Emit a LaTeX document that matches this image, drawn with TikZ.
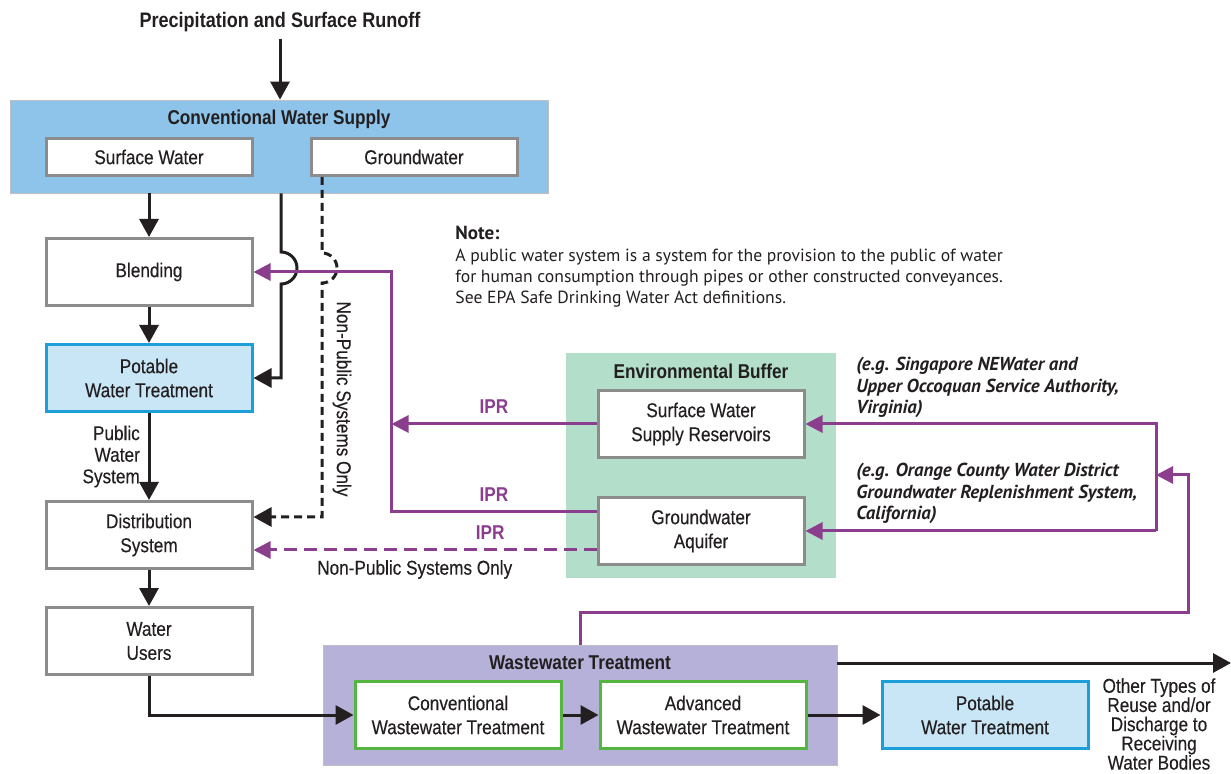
\documentclass[tikz,border=0pt]{standalone}
\usepackage{fontspec}
\setmainfont{Liberation Sans}[FakeStretch=0.86, UprightFeatures={FakeBold=0.3}]
\newfontfamily\notefont{PT Sans}
\usetikzlibrary{positioning, arrows.meta, fit, backgrounds}

\definecolor{supplyblue}{RGB}{142,196,234}
\definecolor{bufferteal}{RGB}{178,222,202}
\definecolor{wwlilac}{RGB}{182,177,216}
\definecolor{potablefill}{RGB}{201,230,246}
\definecolor{potableedge}{RGB}{30,158,217}
\definecolor{boxgray}{RGB}{140,140,140}
\definecolor{wwgreen}{RGB}{86,180,64}
\definecolor{iprpurple}{RGB}{140,62,142}
\definecolor{inkblack}{RGB}{35,31,32}

\tikzstyle{box} = [rectangle, draw=boxgray, line width=1.5pt, fill=white, minimum width=103pt, minimum height=33.5pt, inner sep=1pt, align=center, text=inkblack, font=\fontsize{10}{12}\selectfont]
\tikzstyle{srcbox} = [box, minimum height=18.5pt]
\tikzstyle{potable} = [box, draw=potableedge, fill=potablefill]
\tikzstyle{wwbox} = [box, draw=wwgreen]
\tikzstyle{groupbox} = [rectangle, inner sep=0pt, draw=black!25, line width=0.4pt]
\tikzstyle{grouptitle} = [font=\bfseries\fontsize{10}{12}\selectfont, text=inkblack]
\tikzstyle{plain} = [font=\fontsize{10}{12}\selectfont, text=inkblack, align=center]
\tikzstyle{arrow} = [line width=1.5pt, draw=inkblack, -{Triangle[length=9pt, width=9.5pt]}]
\tikzstyle{nonpublic} = [arrow, dash pattern=on 4pt off 2.5pt]
\tikzstyle{ipr} = [line width=1.5pt, draw=iprpurple, -{Triangle[length=8.5pt, width=8.5pt]}]
\tikzstyle{iprdash} = [ipr, dash pattern=on 6.5pt off 3.5pt]
\tikzstyle{iprlabel} = [font=\bfseries\fontsize{10}{12}\selectfont, text=iprpurple, above=1pt]
\tikzstyle{note} = [font=\notefont\fontsize{8.8}{10.3}\selectfont, align=left, text=inkblack, inner sep=0pt]
\tikzstyle{example} = [font=\notefont\bfseries\itshape\fontsize{9.4}{10.6}\selectfont, align=left, text=inkblack, inner sep=0pt]

\begin{document}
\begin{tikzpicture}[x=0.5pt, y=-0.5pt]
  \useasboundingbox (0,0) rectangle (1231,774);

  % Conventional supply (top left)
  \node (runoff) [grouptitle, font=\bfseries\fontsize{10.5}{12}\selectfont] at (280,22) {Precipitation and Surface Runoff};
  \node (sw) [srcbox] at (149,157) {Surface Water};
  \node (gw) [srcbox, right=28pt of sw] {Groundwater};

  % Main column
  \node (blend) [box, below=30pt of sw] {Blending};
  \node (pwt) [potable, below=18pt of blend] {Potable\\Water Treatment};
  \node (dist) [box, below=43.5pt of pwt] {Distribution\\System};
  \node (users) [box, below=18pt of dist] {Water\\Users};

  % Environmental buffer
  \node (reservoir) [box] at (701,424) {Surface Water\\Supply Reservoirs};
  \node (aquifer) [box, below=18.5pt of reservoir] {Groundwater\\Aquifer};

  % Wastewater treatment (bottom)
  \node (convww) [wwbox] at (458,715) {Conventional\\Wastewater Treatment};
  \node (advww) [wwbox, right=18pt of convww] {Advanced\\Wastewater Treatment};
  \node (pwt2) [potable, right=36.5pt of advww] {Potable\\Water Treatment};
  \node (other) [plain, font=\fontsize{10}{9.6}\selectfont] at (1159,724) {Other Types of\\Reuse and/or\\Discharge to\\Receiving\\Water Bodies};

  % Group boxes
  \begin{scope}[on background layer]
    \node (cws) [groupbox, fill=supplyblue, fit={(10,100) (548,193)}] {};
    \node (buffer) [groupbox, fill=bufferteal, draw=none, fit={(566,353) (836,578)}] {};
    \node (wwt) [groupbox, fill=wwlilac, fit={(323,645) (837,765)}] {};
  \end{scope}
  \node (cwstitle) [grouptitle] at ([yshift=-10pt]cws.north) {Conventional Water Supply};
  \node (buffertitle) [grouptitle] at ([yshift=-9.5pt]buffer.north) {Environmental Buffer};
  \node (wwttitle) [grouptitle] at ([yshift=-9pt]wwt.north) {Wastewater Treatment};

  % Arrows - main flow
  \draw[arrow] (runoff.south) -- (runoff.south |- cws.north);
  \draw[arrow] (sw.south |- cws.south) -- (blend);
  \draw[arrow] (blend) -- (pwt);
  \draw[arrow] (pwt) -- node[plain, left=0.5pt, align=right, font=\fontsize{10}{10.8}\selectfont] {Public\\Water\\System} (dist);
  \draw[arrow] (dist) -- (users);
  \draw[arrow] (users) |- (convww);
  \draw[arrow] (convww) -- (advww);
  \draw[arrow] (advww) -- (pwt2);
  \coordinate (outlet) at (1231,663);
  \draw[arrow] (wwt.east |- outlet) -- (outlet);

  % Bypass lines hopping over the IPR line
  \coordinate (bypass) at (281,0);
  \draw[arrow] (bypass |- cws.south) -- (bypass |- 0,252) arc[start angle=-90, end angle=90, radius=16] |- (pwt.east);
  \coordinate (privatex) at (322,0);
  \draw[nonpublic] (privatex |- gw.south) -- (privatex |- 0,253) arc[start angle=-90, end angle=90, radius=15] |- ([yshift=9pt]dist.east);
  \node (privlabel) [plain, rotate=-90] at (342,399) {Non-Public Systems Only};

  % IPR returns
  \draw[ipr] (reservoir.west) -- node[iprlabel] {IPR} ++(-102.5pt,0);
  \draw[ipr] ([yshift=9.5pt]aquifer.west) -- node[iprlabel] {IPR} ++(-102.5pt,0) |- (blend.east);
  \draw[iprdash] ([yshift=-9.5pt]aquifer.west) -- node[iprlabel, pos=0.31] {IPR} node[plain, below=1pt, pos=0.53] {Non-Public Systems Only} ([yshift=-9.5pt]aquifer.west -| dist.east);

  % Reuse loop from wastewater treatment
  \coordinate (loop) at (1188,612);
  \coordinate (split) at (1156,475);
  \draw[ipr] (wwt.north) |- (loop) |- (split);
  \draw[ipr] (split |- aquifer.east) |- (reservoir.east);
  \draw[ipr] (split |- aquifer.east) -- (aquifer.east);

  % Notes
  \node (notehead) [note, font=\notefont\bfseries\fontsize{9.5}{10}\selectfont, anchor=west] at (455,233) {Note:};
  \node (notebody) [note, anchor=north west] at (455,249) {A public water system is a system for the provision to the public of water\\for human consumption through pipes or other constructed conveyances.\\See EPA Safe Drinking Water Act definitions.};
  \node (singapore) [example, anchor=north west] at (856,357) {(e.g. Singapore NEWater and\\Upper Occoquan Service Authority,\\Virginia)};
  \node (orange) [example, anchor=north west] at (856,463) {(e.g. Orange County Water District\\Groundwater Replenishment System,\\California)};

\end{tikzpicture}
\end{document}
